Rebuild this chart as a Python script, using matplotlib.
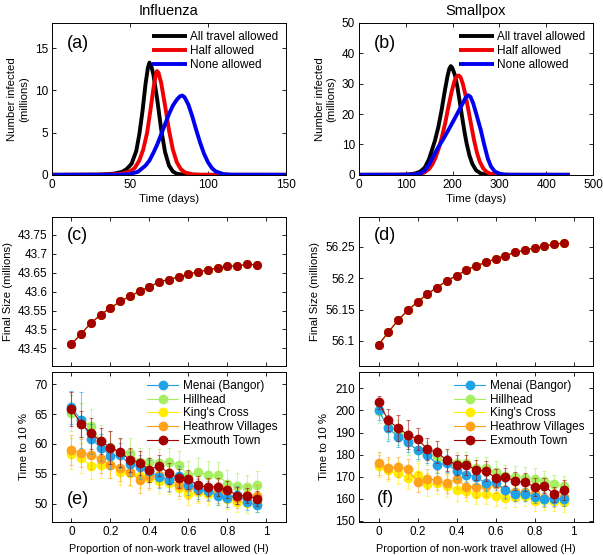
import matplotlib
matplotlib.use('Agg')
import matplotlib.pyplot as plt
from matplotlib.ticker import FormatStrFormatter, NullFormatter

plt.rcParams['font.family'] = ['Liberation Sans', 'DejaVu Sans']
plt.rcParams['font.size'] = 8.5

# ---- panel a : influenza epidemic curves (millions infected vs days)
flu_t_all = [0, 30, 35, 40, 45, 48, 51, 54, 56, 58, 60, 61.5, 62.5, 63.5, 65, 67.5, 70, 72.5, 75, 77.5, 80, 85, 90, 150]
flu_all = [0, 0.03, 0.07, 0.15, 0.35, 0.7, 1.3, 2.8, 4.8, 7.5, 10.8, 12.7, 13.3, 13.0, 11.9, 8.9, 5.4, 2.7, 1.1, 0.4, 0.12, 0.01, 0, 0]
flu_t_half = [0, 30, 35, 40, 45, 50, 53, 56, 58.5, 61, 63, 65, 66.5, 67.3, 68.3, 70, 72.5, 75, 77.5, 80, 82.5, 85, 90, 95, 100, 150]
flu_half = [0, 0.01, 0.03, 0.07, 0.15, 0.4, 0.8, 1.7, 3.0, 5.0, 7.5, 10.2, 11.8, 12.3, 12.1, 10.9, 8.2, 5.3, 3.0, 1.5, 0.7, 0.3, 0.06, 0.01, 0, 0]
flu_t_none = [0, 30, 40, 45, 50, 55, 60, 62.5, 65, 67.5, 70, 72.5, 75, 77.5, 80, 82, 83.5, 85, 87.5, 90, 92.5, 95, 97.5, 100, 102.5, 105, 110, 115, 150]
flu_none = [0, 0, 0.01, 0.03, 0.1, 0.35, 1.1, 1.7, 2.6, 3.6, 4.8, 6.0, 7.2, 8.2, 8.9, 9.3, 9.4, 9.2, 8.3, 6.9, 5.3, 3.8, 2.5, 1.5, 0.8, 0.4, 0.08, 0.01, 0]

# ---- panel b : smallpox epidemic curves
sp_t_all = [0, 80, 100, 110, 120, 130, 140, 149, 155, 162, 169, 176, 183, 189, 193, 196, 199, 205, 210, 215, 220, 226, 230, 236, 242, 250, 260, 270, 280, 300, 450]
sp_all = [0, 0.02, 0.08, 0.2, 0.45, 1.0, 2.3, 5.0, 7.8, 11.2, 15.5, 21, 27.5, 32.5, 35, 35.8, 35.3, 32.8, 29, 24.2, 19.2, 13.5, 10.2, 6.3, 3.6, 1.5, 0.45, 0.1, 0.02, 0, 0]
sp_t_half = [0, 100, 120, 130, 140, 150, 157, 163, 170, 177, 184, 191, 198, 204, 209, 213, 217, 222, 228, 234, 240, 246, 252, 258, 265, 272, 280, 290, 300, 320, 450]
sp_half = [0, 0.02, 0.12, 0.3, 0.8, 2.0, 3.6, 5.5, 8.6, 12.5, 17, 22.5, 27.5, 31, 32.5, 32.7, 32.1, 29.8, 25.8, 21, 16, 11.2, 7.2, 4.3, 2.2, 1.0, 0.4, 0.12, 0.03, 0, 0]
sp_t_none = [0, 100, 120, 130, 140, 150, 155, 160, 170, 180, 190, 200, 210, 220, 227, 233, 238, 244, 250, 256, 260, 267, 275, 282, 290, 300, 310, 320, 340, 450]
sp_none = [0, 0.02, 0.15, 0.45, 1.3, 3.5, 5.0, 6.5, 9.3, 11.8, 14.5, 17.3, 20.2, 23.1, 25.2, 26.2, 25.7, 23.5, 20.3, 17.0, 14.8, 10.2, 5.4, 2.7, 1.1, 0.35, 0.1, 0.02, 0, 0]

curve_labels = ['All travel allowed', 'Half allowed', 'None allowed']

# ---- panels c-f : proportion of non-work travel allowed
H = [0, 0.05, 0.1, 0.15, 0.2, 0.25, 0.3, 0.35, 0.4, 0.45, 0.5, 0.55, 0.6, 0.65, 0.7, 0.75, 0.8, 0.85, 0.9, 0.95]

flu_final = [43.461, 43.489, 43.517, 43.539, 43.557, 43.574, 43.588, 43.601, 43.613, 43.626,
             43.632, 43.639, 43.646, 43.653, 43.657, 43.663, 43.667, 43.668, 43.672, 43.671]
sp_final = [56.094, 56.114, 56.133, 56.149, 56.162, 56.175, 56.185, 56.196, 56.204, 56.213,
            56.220, 56.225, 56.231, 56.236, 56.241, 56.245, 56.248, 56.251, 56.254, 56.256]

places = ['Menai (Bangor)', 'Hillhead', "King's Cross", 'Heathrow Villages', 'Exmouth Town']
place_colors = ['#1fa2e8', '#a6ee62', '#ffee00', '#ffa21a', '#a30000']

# time to 10 % (influenza)
menai_flu = [66.1, 64.0, 60.9, 59.4, 58.0, 58.1, 56.6, 56.2, 55.5, 54.5, 54.0, 54.6, 53.2, 52.5, 52.2, 51.4, 51.0, 51.5, 50.3, 49.8]
hill_flu = [65.2, 64.0, 63.0, 60.5, 59.5, 58.4, 58.5, 57.0, 57.0, 56.8, 57.0, 56.5, 54.8, 55.3, 54.9, 54.8, 53.4, 53.0, 52.8, 53.1]
kings_flu = [58.4, 57.6, 56.4, 56.5, 56.5, 55.3, 55.1, 54.7, 54.3, 53.9, 53.5, 52.7, 51.7, 52.0, 51.6, 51.5, 50.8, 50.3, 50.1, 50.2]
heath_flu = [59.0, 58.5, 58.2, 57.5, 56.5, 56.0, 55.3, 54.0, 54.6, 54.8, 54.0, 53.2, 52.8, 52.4, 52.3, 51.9, 51.3, 51.0, 51.5, 51.4]
exm_flu = [65.8, 63.3, 61.8, 60.5, 59.4, 58.6, 57.4, 56.9, 55.7, 56.4, 55.1, 54.3, 54.1, 53.1, 52.8, 52.9, 52.4, 51.4, 51.4, 50.9]

menai_flu_err = [2.8, 4.6, 2.5, 2.3, 2.2, 2.1, 2.0, 2.0, 1.9, 1.9, 1.8, 1.8, 1.7, 1.7, 1.6, 1.6, 1.5, 1.5, 1.3, 1.2]
hill_flu_err = [3.0, 2.8, 2.8, 2.6, 2.6, 2.5, 2.5, 2.4, 2.4, 2.4, 2.3, 2.3, 2.3, 2.3, 2.3, 2.2, 2.2, 2.1, 2.1, 2.4]
kings_flu_err = [2.6, 2.5, 2.2, 2.2, 2.2, 2.1, 2.1, 2.0, 2.0, 2.0, 1.9, 1.9, 1.8, 1.8, 1.8, 1.7, 1.7, 1.6, 1.6, 1.6]
heath_flu_err = [2.5, 2.4, 2.4, 2.3, 2.2, 2.2, 2.1, 2.1, 2.0, 2.0, 2.0, 1.9, 1.9, 1.9, 1.8, 1.8, 1.8, 1.7, 1.7, 1.7]
exm_flu_err = [2.8, 2.2, 2.6, 2.2, 2.8, 2.4, 2.0, 2.0, 2.0, 1.8, 1.8, 1.6, 1.6, 1.5, 1.5, 1.5, 1.4, 1.4, 1.3, 1.2]

# time to 10 % (smallpox)
menai_sp = [200, 192, 188, 185.5, 182, 180, 175.5, 176, 172.5, 171, 170, 167, 167.5, 164, 162, 162, 161, 160, 160, 160]
hill_sp = [199.5, 192.5, 190, 185.5, 182, 180.5, 178.5, 176.5, 176, 176, 174, 174, 172, 170.5, 170, 169.5, 169, 168, 166.5, 166]
kings_sp = [175, 173, 171.5, 169.5, 171, 166.5, 167, 166, 164, 163.5, 162, 162, 161.5, 160.5, 161, 161.5, 159, 159.5, 159, 158.5]
heath_sp = [176, 174, 174.5, 173.5, 167.5, 169, 168.5, 167, 169, 165.5, 165.5, 166, 166.5, 164, 163, 163, 162, 160.5, 160.5, 161]
exm_sp = [203.7, 195.5, 192, 189, 187, 182.5, 181, 177.5, 175.5, 175.5, 173, 172.5, 169.5, 170, 168, 167.5, 165.5, 166, 162, 164]

menai_sp_err = [4.5, 6.0, 4.5, 4.5, 4.0, 4.0, 4.0, 4.0, 3.5, 3.5, 3.5, 3.5, 3.5, 3.5, 3.0, 3.0, 3.0, 3.0, 3.0, 3.0]
hill_sp_err = [5.0, 5.5, 5.5, 5.5, 5.0, 5.0, 5.0, 5.0, 5.0, 5.0, 5.0, 5.0, 5.0, 5.0, 5.0, 5.0, 5.0, 4.5, 4.5, 4.5]
kings_sp_err = [5.0, 5.0, 5.0, 5.0, 5.0, 5.0, 5.0, 5.0, 5.0, 4.5, 4.5, 4.5, 4.5, 4.5, 4.5, 4.5, 4.5, 4.5, 4.5, 4.5]
heath_sp_err = [5.0, 5.0, 4.5, 4.5, 4.5, 4.5, 4.5, 4.5, 4.5, 4.5, 4.5, 4.5, 4.0, 4.0, 4.0, 4.0, 4.0, 4.0, 4.0, 4.0]
exm_sp_err = [3.0, 5.0, 6.0, 6.5, 5.0, 5.0, 5.0, 5.0, 4.5, 4.5, 4.5, 4.5, 4.0, 4.0, 4.0, 4.0, 4.0, 3.5, 3.5, 4.5]


def style_ax(ax):
    ax.tick_params(direction='in', top=True, right=True, length=3, width=0.6, labelsize=8.5, pad=3)
    for s in ax.spines.values():
        s.set_linewidth(0.7)


def panel_label(ax, txt, x, y):
    ax.text(x, y, txt, transform=ax.transAxes, fontsize=13, va='center', ha='left')


def curves(ax, data, xmax, ymax, yticks, xticks, label):
    cols = ['black', '#f00000', '#0000f0']
    for (t, v), c, lab in zip(data, cols, curve_labels):
        ax.plot(t, v, color=c, lw=2.8, label=lab, solid_capstyle='butt')
    ax.set_xlim(0, xmax)
    ax.set_ylim(0, ymax)
    ax.set_xticks(xticks)
    ax.set_yticks(yticks)
    ax.set_xlabel('Time (days)', labelpad=2, fontsize=8.2)
    ax.set_ylabel('Number infected\n(millions)', fontsize=8.2)
    ax.legend(loc='upper right', frameon=False, fontsize=8.5, handlelength=2.9,
              handletextpad=0.3, labelspacing=0.2, borderaxespad=0.25)
    style_ax(ax)
    panel_label(ax, label, 0.065, 0.865)


def final_size(ax, vals, ylim, yticks, fmt, label):
    for c in place_colors:
        ax.plot(H, vals, '-o', color=c, mec=c, ms=5.5, lw=0.8)
    ax.set_xlim(-0.1, 1.1)
    ax.set_ylim(*ylim)
    ax.set_xticks([0, 0.2, 0.4, 0.6, 0.8, 1])
    ax.xaxis.set_major_formatter(NullFormatter())
    ax.set_yticks(yticks)
    ax.yaxis.set_major_formatter(FormatStrFormatter(fmt))
    ax.set_ylabel('Final Size (millions)', fontsize=8.2)
    style_ax(ax)
    panel_label(ax, label, 0.065, 0.875)


def time_to_10(ax, series, errs, ylim, yticks, label, lx, ly):
    handles = {}
    order = [1, 2, 3, 0, 4]
    for i in order:
        c = place_colors[i]
        ax.errorbar(H, series[i], yerr=errs[i], fmt='none', ecolor=c, alpha=0.55,
                    elinewidth=0.8, capsize=1.5, capthick=0.8)
        ln, = ax.plot(H, series[i], '-o', color=c, mec=c, ms=6, lw=0.8, label=places[i])
        handles[i] = ln
    ax.set_xlim(-0.1, 1.1)
    ax.set_ylim(*ylim)
    ax.set_xticks([0, 0.2, 0.4, 0.6, 0.8, 1])
    ax.set_xticklabels(['0', '0.2', '0.4', '0.6', '0.8', '1'])
    ax.set_yticks(yticks)
    ax.set_xlabel('Proportion of non-work travel allowed (H)', labelpad=4, fontsize=7.8)
    ax.set_ylabel('Time to 10 %', fontsize=8.2)
    ax.legend([handles[i] for i in range(5)], places, loc='upper right', frameon=False,
              fontsize=8.5, handlelength=2.6, handletextpad=0.45, labelspacing=0.15,
              borderaxespad=0.3)
    style_ax(ax)
    panel_label(ax, label, lx, ly)


fig = plt.figure(figsize=(6.03, 5.55), dpi=100)

ax_a = fig.add_axes([0.0862, 0.685, 0.388, 0.2736])
ax_b = fig.add_axes([0.5955, 0.685, 0.388, 0.2736])
ax_c = fig.add_axes([0.0862, 0.3405, 0.388, 0.2691])
ax_d = fig.add_axes([0.5955, 0.3405, 0.388, 0.2691])
ax_e = fig.add_axes([0.0862, 0.0589, 0.388, 0.2714])
ax_f = fig.add_axes([0.5955, 0.0589, 0.388, 0.2714])

curves(ax_a, [(flu_t_all, flu_all), (flu_t_half, flu_half), (flu_t_none, flu_none)],
       150, 18, [0, 5, 10, 15], [0, 50, 100, 150], '(a)')
ax_a.set_title('Influenza', fontsize=10.5, pad=6)

curves(ax_b, [(sp_t_all, sp_all), (sp_t_half, sp_half), (sp_t_none, sp_none)],
       500, 50, [0, 10, 20, 30, 40, 50], [0, 100, 200, 300, 400, 500], '(b)')
ax_b.set_title('Smallpox', fontsize=10.5, pad=6)

final_size(ax_c, flu_final, (43.4035, 43.798), [43.45, 43.5, 43.55, 43.6, 43.65, 43.7, 43.75], '%g', '(c)')
final_size(ax_d, sp_final, (56.06, 56.298), [56.1, 56.15, 56.2, 56.25], '%g', '(d)')

time_to_10(ax_e, [menai_flu, hill_flu, kings_flu, heath_flu, exm_flu],
           [menai_flu_err, hill_flu_err, kings_flu_err, heath_flu_err, exm_flu_err],
           (46.94, 72.06), [50, 55, 60, 65, 70], '(e)', 0.065, 0.15)
time_to_10(ax_f, [menai_sp, hill_sp, kings_sp, heath_sp, exm_sp],
           [menai_sp_err, hill_sp_err, kings_sp_err, heath_sp_err, exm_sp_err],
           (149.4, 217.5), [150, 160, 170, 180, 190, 200, 210], '(f)', 0.075, 0.16)

fig.savefig('out.png', dpi=100)
